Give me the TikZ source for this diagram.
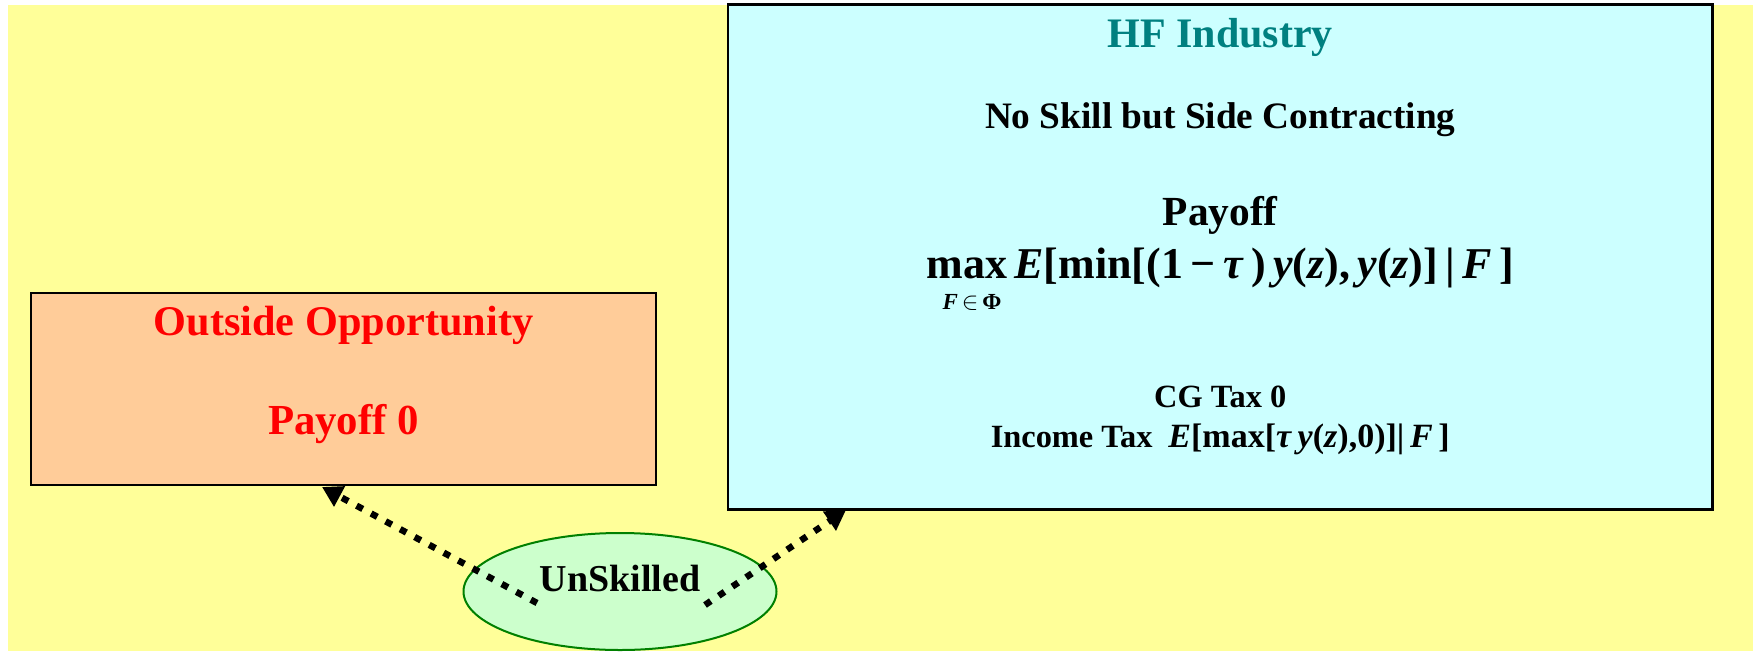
\documentclass[tikz,border=0pt]{standalone}
\usepackage{fontspec}
\usepackage{amsmath}
\setmainfont{Liberation Serif}
\usetikzlibrary{shapes.geometric,arrows.meta,calc}

\definecolor{bgyellow}{HTML}{FFFF99}
\definecolor{hfcyan}{HTML}{CCFFFF}
\definecolor{outpeach}{HTML}{FFCC99}
\definecolor{unsgreen}{HTML}{CCFFCC}
\definecolor{unsedge}{HTML}{008000}
\definecolor{hfteal}{HTML}{008080}
\definecolor{outred}{HTML}{FF0000}

\newcommand\fsz[1]{\fontsize{#1}{#1}\selectfont}

\begin{document}
\begin{tikzpicture}[x=1pt,y=-1pt,
  panel/.style={draw=black,line width=2.2pt,rectangle,inner sep=0pt,outer sep=0pt},
  txt/.style={anchor=base,inner sep=0pt,outer sep=0pt},
  flow/.style={line width=6.5pt,dash pattern=on 7pt off 9.5pt,
    -{Triangle[length=20pt,width=22pt]}}]

\useasboundingbox (0,0) rectangle (1753,651);
\fill[bgyellow] (8,5) rectangle (1753,651);

% the unskilled agent
\node[ellipse,draw=unsedge,fill=unsgreen,line width=2pt,inner sep=0pt,
      minimum width=313pt,minimum height=117pt] (uns) at (620,591.5) {};

% centres of the two choice panels
\path (343.5,389) coordinate (outc);
\path (1220.25,257) coordinate (hfc);

% connectors from the agent to the two choices (drawn under the panels)
\coordinate (ls) at ($(uns.center)+(-83,11.5)$);
\coordinate (rs) at ($(uns.center)+(85,13.5)$);
\coordinate (lt) at ($(outc)+(-21.5,98)$);
\coordinate (rt) at ($(hfc)+(-374.25,253)$);
\draw[flow] (ls) -- (lt);
\draw[flow] (rs) -- (rt);

% outside opportunity box
\node[panel,fill=outpeach,minimum width=625pt,minimum height=192pt] (out) at (outc) {};
% hedge fund industry box
\node[panel,fill=hfcyan,minimum width=984.5pt,minimum height=505pt] (hf) at (hfc) {};

% texts
\node[txt,font=\bfseries\fsz{38}] (unslbl) at (620,591) {UnSkilled};

\node[txt,font=\bfseries\fsz{42.3},text=outred] (outt) at (343.5,335) {Outside Opportunity};
\node[txt,font=\bfseries\fsz{42.8},text=outred] (outp) at (343.5,434) {Payoff 0};

\node[txt,font=\bfseries\fsz{42},text=hfteal] (hft) at (1220.25,47) {HF Industry};
\node[txt,font=\bfseries\fsz{37.3}] (hfs) at (1220.25,128) {No Skill but Side Contracting};
\node[txt,font=\bfseries\fsz{41.4}] (hfp) at (1220.25,225) {Payoff};
\node[txt,font=\bfseries\fsz{44}] (hff) at (1220.25,278)
  {$\mathop{\text{max}}\limits_{\text{\fsz{23}\rule{0pt}{27pt}\hspace{10pt}\textit{F}\,$\in$\,Φ}}$\,\textit{E}[min[(1\,−\,\textit{τ}\,)\,\textit{y}(\textit{z}),\,\textit{y}(\textit{z})]\,|\,\textit{F}\,]};
\node[txt,font=\bfseries\fsz{32.4}] (cg) at (1220.25,407) {CG Tax 0};
\node[txt,font=\bfseries\fsz{32.4}] (inc) at (1220.25,447)
  {Income Tax\hspace{16pt}{\fsz{34}\textit{E}[max[\textit{τ}\,\textit{y}(\textit{z}),0)]|\,\textit{F}\,]}};

\end{tikzpicture}
\end{document}
